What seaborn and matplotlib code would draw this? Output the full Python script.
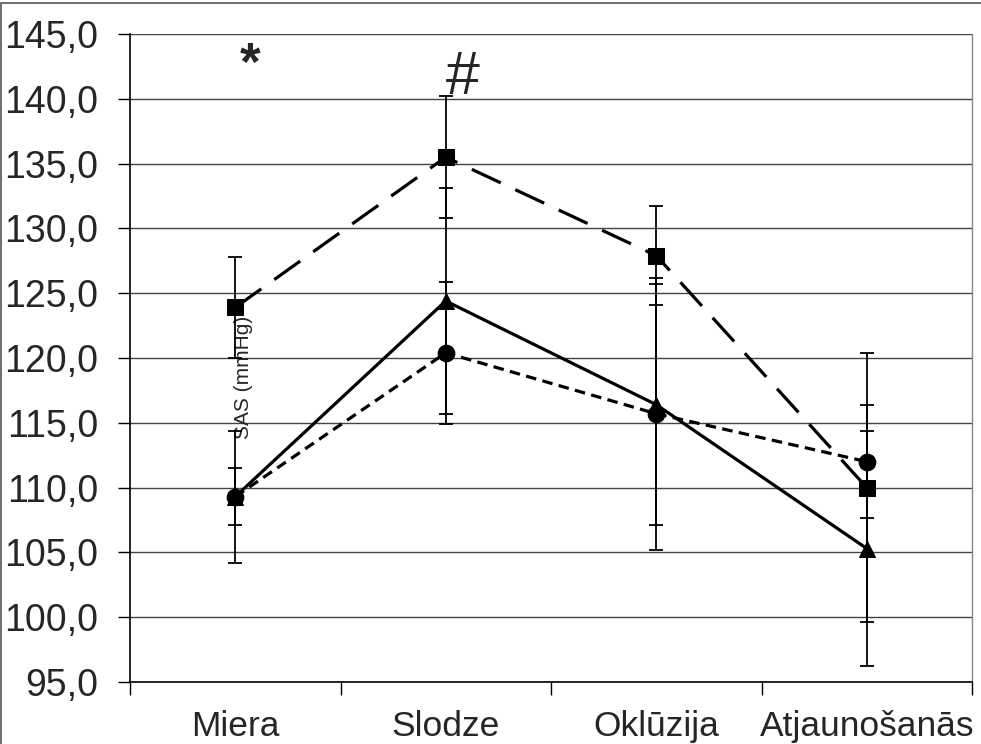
import numpy as np
import pandas as pd
import seaborn as sns
import matplotlib.pyplot as plt
from matplotlib.ticker import FuncFormatter, FixedLocator
from matplotlib.patches import Rectangle

# Values
categories = ['Miera', 'Slodze', 'Oklūzija', 'Atjaunošanās']
square_mean = [123.9, 135.5, 127.9, 110.0]
square_err = [3.9, 4.7, 3.8, 10.4]
triangle_mean = [109.3, 124.4, 116.4, 105.3]
triangle_err = [5.1, 8.7, 9.3, 9.1]
circle_mean = [109.3, 120.4, 115.7, 112.0]
circle_err = [2.2, 5.5, 10.5, 4.35]
y_ticks = [95, 100, 105, 110, 115, 120, 125, 130, 135, 140, 145]

sns.set_style('white')
plt.rcParams['font.family'] = ['Liberation Sans', 'DejaVu Sans']

pos = np.arange(len(categories))
df = pd.DataFrame({
    'pos': np.tile(pos, 3),
    'SAS': square_mean + triangle_mean + circle_mean,
    'group': ['square'] * 4 + ['triangle'] * 4 + ['circle'] * 4,
})

fig = plt.figure(figsize=(9.81, 7.44), dpi=100)
ax = fig.add_axes([130 / 981, 1 - 682 / 744, (972 - 130) / 981, (682 - 34) / 744])

# horizontal grid
for v in y_ticks:
    ax.axhline(v, color='#444444', lw=1.0, zorder=0)

# error bars
for m, e in [(square_mean, square_err), (triangle_mean, triangle_err), (circle_mean, circle_err)]:
    ax.errorbar(pos, m, yerr=e, fmt='none', ecolor='black', elinewidth=1.3,
                capsize=5, capthick=1.3, zorder=2)

sns.lineplot(data=df, x='pos', y='SAS', style='group', ax=ax, color='black',
             markers={'square': 's', 'triangle': '^', 'circle': 'o'},
             dashes={'square': (10, 5), 'triangle': '', 'circle': (3.3, 2)},
             markersize=12, markeredgecolor='black', linewidth=2.3,
             legend=False, zorder=3)

ax.set_xlim(-0.5, 3.5)
ax.set_ylim(95, 145)

# x axis: ticks at category boundaries, labels centered
ax.xaxis.set_major_locator(FixedLocator(np.arange(-0.5, 4, 1.0)))
ax.xaxis.set_major_formatter(FuncFormatter(lambda v, p: ''))
ax.xaxis.set_minor_locator(FixedLocator(pos))
ax.set_xticklabels(categories, minor=True)
ax.tick_params(axis='x', which='major', direction='out', length=9, width=1, color='black', bottom=True)
ax.tick_params(axis='x', which='minor', length=0, labelsize=25.5, pad=20)

ax.set_yticks(y_ticks)
ax.yaxis.set_major_formatter(FuncFormatter(lambda v, p: f'{v:.1f}'.replace('.', ',')))
ax.tick_params(axis='y', direction='out', length=9, width=1, color='black', left=True,
               labelsize=27, pad=14)

ax.set_xlabel('')
ax.set_ylabel('SAS (mmHg)', fontsize=15)
ax.yaxis.set_label_coords(0.135, 0.47)
ax.yaxis.label.set_va('center')

for s in ['left', 'bottom']:
    ax.spines[s].set_color('black')
    ax.spines[s].set_linewidth(1.2)
ax.spines['top'].set_visible(False)
ax.spines['right'].set_color('#888888')
ax.spines['right'].set_linewidth(1.0)

# significance marks
ax.text(0.07, 142.5, '*', fontsize=38, fontweight='bold', ha='center', va='center')
ax.text(1.077, 141.6, '#', fontsize=44, fontstyle='italic', ha='center', va='center')

# outer frame of the figure
fig.patches.append(Rectangle((0.0015, -0.1), 2, 1.1 - 3.5 / 744, transform=fig.transFigure,
                             fill=False, edgecolor='#555555', lw=1.2))

fig.savefig('out.png', dpi=100)
